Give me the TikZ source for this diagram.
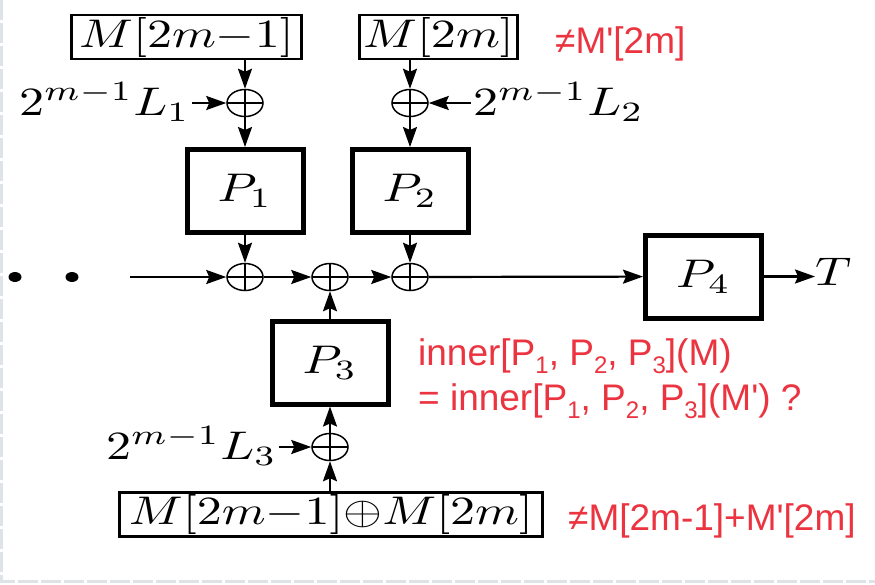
\RequirePackage{fix-cm}
\documentclass[tikz,border=0pt]{standalone}
\usepackage{fontspec}
\usetikzlibrary{arrows.meta,shapes.geometric}
\newfontfamily\redfont{Liberation Sans}
\definecolor{redtxt}{RGB}{235,52,64}
\definecolor{edgegray}{RGB}{222,227,232}
\newcommand{\mtx}[1]{\scalebox{5}[4]{\fontsize{10}{12}\selectfont$#1$}}
\newcommand{\rsb}[1]{\raisebox{-0.22em}{\fontsize{24}{24}\selectfont #1}}
\newcommand{\expo}{2^{m-1}}
\tikzset{
  pbox/.style={draw, line width=5pt, minimum width=116pt, minimum height=83pt, inner sep=0pt},
  inbox/.style={draw, line width=2.5pt, inner sep=0pt},
  xorn/.style={ellipse, draw, line width=1.5pt, minimum width=36pt, minimum height=27pt, inner sep=0pt,
    path picture={\draw[line width=1.5pt] (path picture bounding box.north) -- (path picture bounding box.south)
      (path picture bounding box.west) -- (path picture bounding box.east);}},
  arr/.style={line width=2.2pt, -{Stealth[length=20pt,width=14pt,inset=3pt]}},
  dotn/.style={ellipse, fill, minimum width=13pt, minimum height=10pt, inner sep=0pt},
  lbl/.style={inner sep=2pt},
  redt/.style={text=redtxt, font=\redfont\fontsize{37}{44}\selectfont, inner sep=0pt, anchor=base west}
}
\begin{document}
\begin{tikzpicture}[x=1pt,y=-1pt]
\useasboundingbox (0,0) rectangle (875,584);
\fill[white] (0,0) rectangle (875,584);
\draw[edgegray, line width=3pt, dash pattern=on 20pt off 3pt] (1.5,0) -- (1.5,581.5) -- (875,581.5);

\node[inbox, minimum width=230pt, minimum height=44pt] (in1) at (186.5,37) {\mtx{M[2m{-}1]}};
\node[inbox, minimum width=158pt, minimum height=44pt] (in2) at (438.5,37) {\mtx{M[2m]}};
\node[xorn] (x1) at (245,103) {};
\node[xorn] (x2) at (410,103) {};
\node[pbox] (p1) at (245,191) {\mtx{P_1}};
\node[pbox] (p2) at (410,191) {\mtx{P_2}};
\node[dotn] (d1) at (15,277) {};
\node[dotn] (d2) at (72,277) {};
\coordinate (start) at (130,277);
\node[xorn] (xa) at (245,277) {};
\node[xorn] (xb) at (330,277) {};
\node[xorn] (xc) at (410,277) {};
\node[pbox] (p4) at (703.5,276.5) {\mtx{P_4}};
\node[anchor=base west, inner sep=0pt] (t) at (815,285) {\mtx{T}};
\node[pbox] (p3) at (330,362.5) {\mtx{P_3}};
\node[xorn] (x3) at (330,447) {};
\node[inbox, minimum width=423pt, minimum height=44pt] (in3) at (331,514.5) {\mtx{M[2m{-}1]{\oplus}M[2m]}};
\node[lbl, anchor=base east] (l1) at (192,115) {\mtx{\expo L_1}};
\node[lbl, anchor=base west] (l2) at (471,115) {\mtx{\expo L_2}};
\node[lbl, anchor=base east] (l3) at (279,459) {\mtx{\expo L_3}};

\draw[arr] (x1 |- in1.south) -- (x1);
\draw[arr] (x2 |- in2.south) -- (x2);
\draw[arr] (x1) -- (p1);
\draw[arr] (x2) -- (p2);
\draw[arr] (p1) -- (xa);
\draw[arr] (p2) -- (xc);
\draw[arr] (start) -- (xa);
\draw[arr] (xa) -- (xb);
\draw[arr] (xb) -- (xc);
\draw[arr] (xc) -- (p4);
\draw[arr] (p4.east) -- (p4.east -| t.west);
\draw[arr] (p3) -- (xb);
\draw[arr] (x3) -- (p3);
\draw[arr] (x3 |- in3.north) -- (x3);
\draw[arr] (l1.east |- x1) -- (x1);
\draw[arr] (l2.west |- x2) -- (x2);
\draw[arr] (l3.east |- x3) -- (x3);

\node[redt] (r1) at (555,53) {≠M\textquotesingle[2m]};
\node[redt] (r2) at (418,365) {inner[P\rsb{1}, P\rsb{2}, P\rsb{3}](M)};
\node[redt] (r3) at (418,410) {= inner[P\rsb{1}, P\rsb{2}, P\rsb{3}](M\textquotesingle) ?};
\node[redt] (r4) at (568,530) {≠M[2m-1]+M\textquotesingle[2m]};
\end{tikzpicture}
\end{document}
